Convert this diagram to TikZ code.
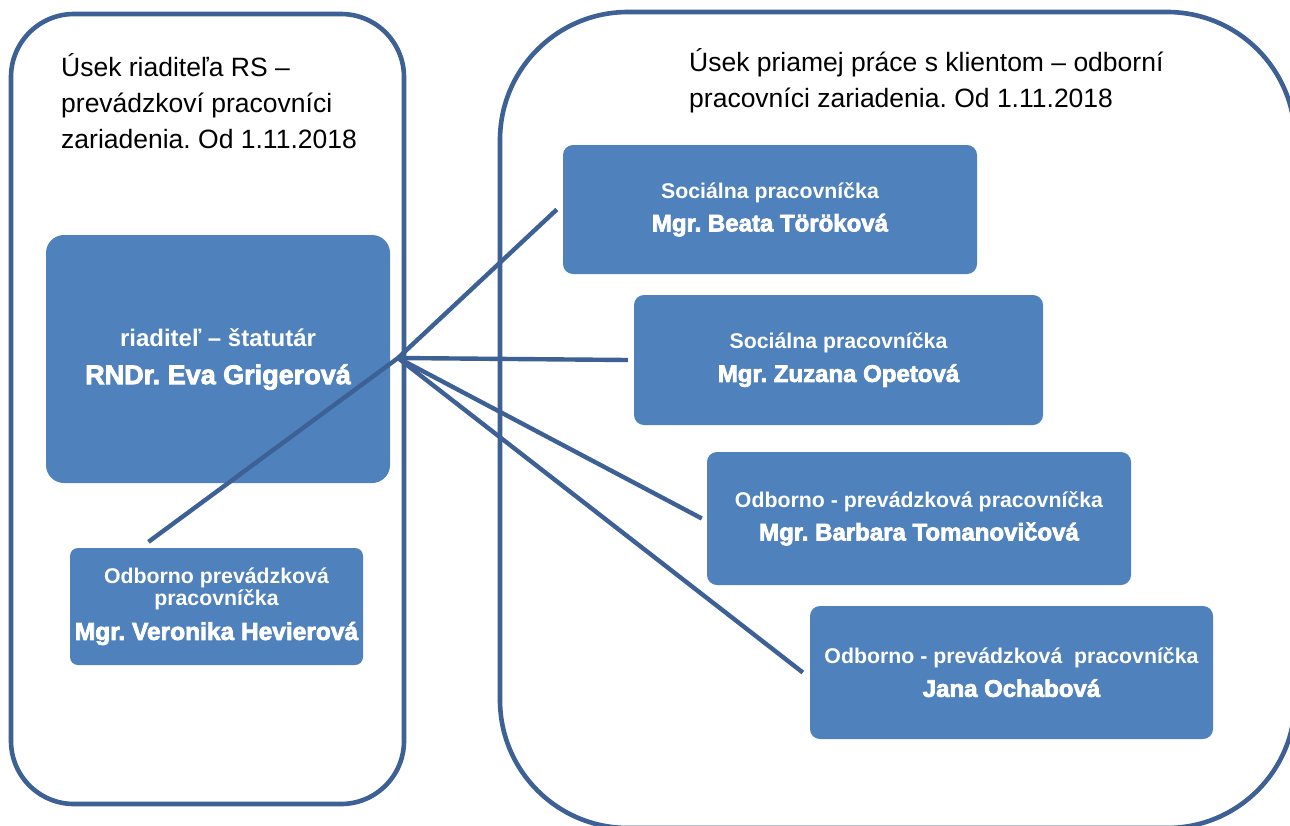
\documentclass[tikz,border=0pt]{standalone}
\usepackage{fontspec}
\setmainfont{Liberation Sans}
\newfontfamily\namefont{Liberation Sans}[UprightFont=* Bold, UprightFeatures={FakeBold=3}]
\definecolor{boxblue}{HTML}{4F81BD}
\definecolor{lineblue}{HTML}{3E6195}
\frenchspacing
\begin{document}
\begin{tikzpicture}[x=1pt,y=-1pt,
  frame/.style={draw=lineblue, line width=4.6pt},
  person/.style={fill=boxblue, draw=none, text=white, align=center, inner sep=0pt,
    rounded corners=10pt, font=\bfseries\fontsize{21.3}{33}\selectfont},
  link/.style={draw=lineblue, line width=4.4pt},
  titletext/.style={anchor=base west, align=left, inner sep=0pt, text=black,
    font=\fontsize{26.5}{36}\selectfont}]
\useasboundingbox (0,0) rectangle (1290,825);
\clip (0,0) rectangle (1290,825);
\fill[white] (0,0) rectangle (1290,825);

% section frames
\draw[frame, rounded corners=63pt] (11,14) rectangle (404,804);
\draw[frame, rounded corners=128pt] (500,12) rectangle (1295,828);

% section titles (base anchor = last line)
\node[titletext] (t1) at (61,148) {Úsek riaditeľa RS –\\prevádzkoví pracovníci\\zariadenia. Od 1.11.2018};
\node[titletext] (t2) at (689,107) {Úsek priamej práce s klientom – odborní\\pracovníci zariadenia. Od 1.11.2018};

% people
\node[person, rounded corners=18pt, minimum width=344pt, minimum height=248pt,
  font=\bfseries\fontsize{24}{38}\selectfont] (dir) at (218,359)
  {riaditeľ – štatutár\\{\namefont\fontsize{27}{38}\selectfont RNDr. Eva Grigerová}};
\node[person, rounded corners=8pt, minimum width=293pt, minimum height=117pt,
  font=\bfseries\fontsize{21.3}{22}\selectfont] (vero) at (216.5,606.5)
  {Odborno prevádzková\\pracovníčka\\[11pt]{\namefont\fontsize{24.5}{33}\selectfont Mgr. Veronika Hevierová}};
\node[person, minimum width=414pt, minimum height=129pt] (torok) at (770,209.5)
  {Sociálna pracovníčka\\{\namefont\fontsize{24}{33}\selectfont Mgr. Beata Töröková}};
\node[person, minimum width=409pt, minimum height=130pt] (opet) at (838.5,360)
  {Sociálna pracovníčka\\{\namefont\fontsize{24}{33}\selectfont Mgr. Zuzana Opetová}};
\node[person, minimum width=424pt, minimum height=133pt] (toman) at (919,518.5)
  {Odborno - prevádzková pracovníčka\\{\namefont\fontsize{24}{33}\selectfont Mgr. Barbara Tomanovičová}};
\node[person, minimum width=403pt, minimum height=133pt] (ocha) at (1011.5,672.5)
  {Odborno - prevádzková\ \ pracovníčka\\{\namefont\fontsize{24}{33}\selectfont Jana Ochabová}};

% connectors
\coordinate (hub) at (398,358);
\draw[link] (hub) -- ([xshift=-6pt]torok.west);
\draw[link] (hub) -- ([xshift=-6pt]opet.west);
\draw[link] (hub) -- ([xshift=-5pt]toman.west);
\draw[link] (hub) -- ([xshift=-7pt]ocha.west);
\draw[link] (hub) -- ([xshift=-68pt,yshift=6pt]vero.north);
\end{tikzpicture}
\end{document}
